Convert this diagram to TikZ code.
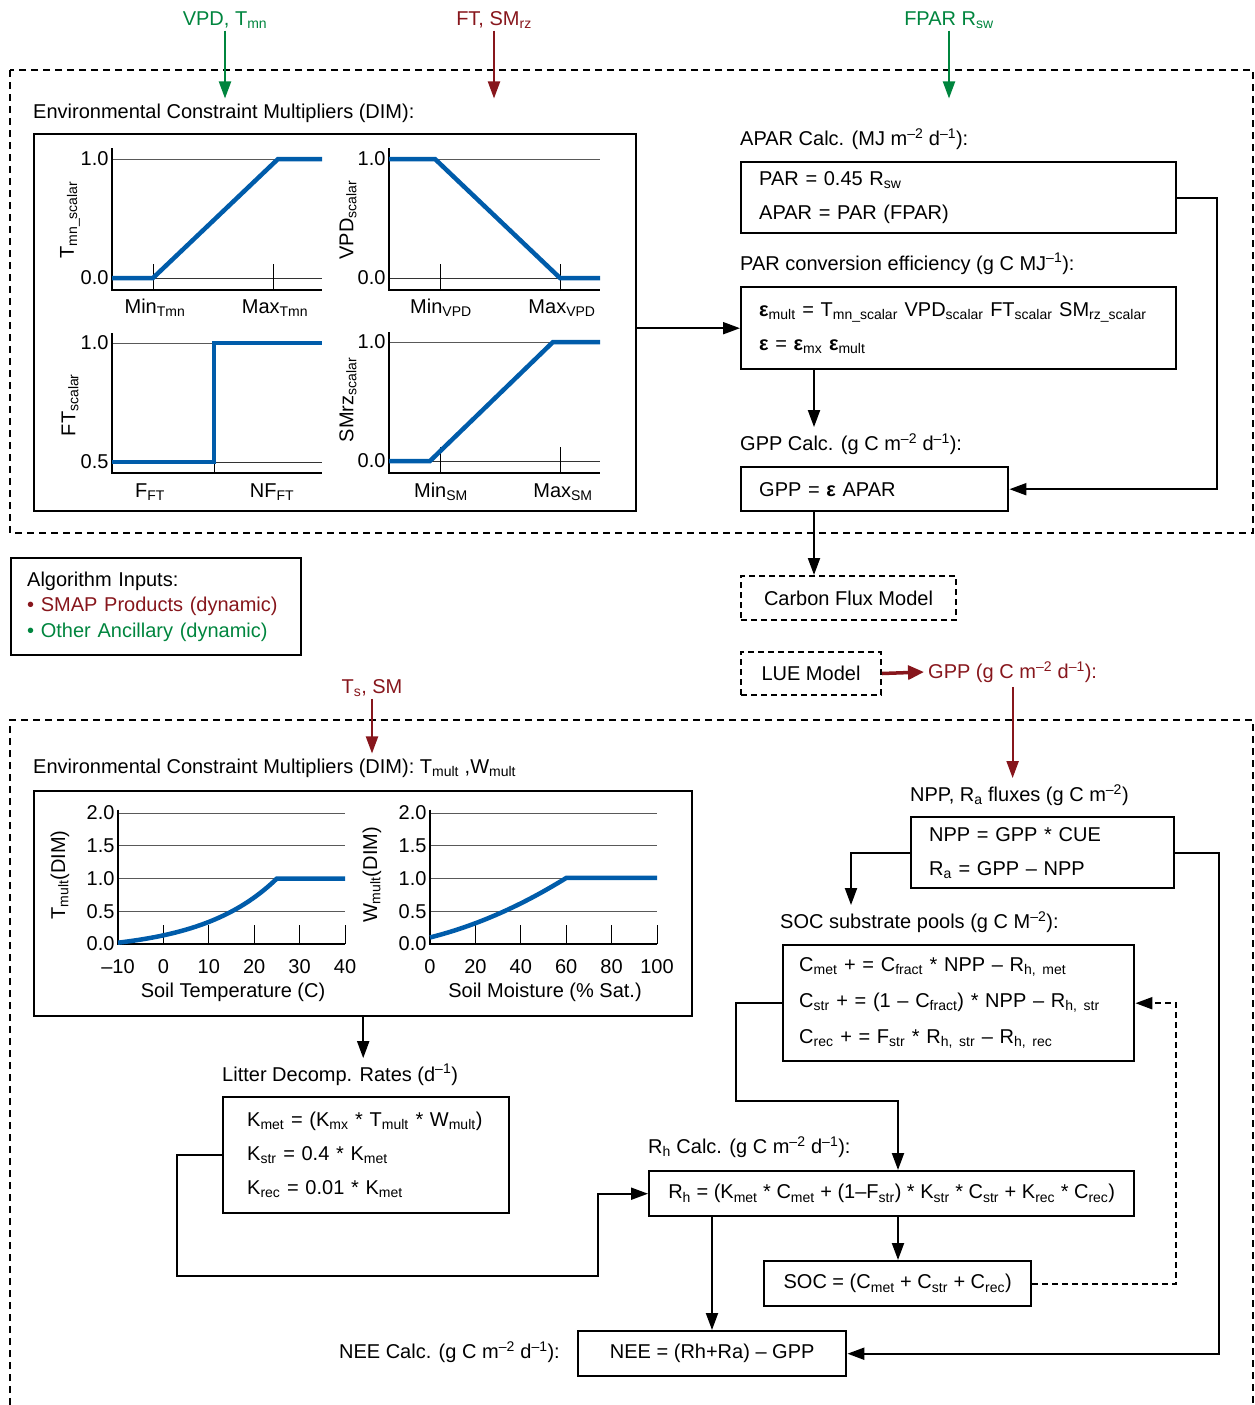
\documentclass[tikz,border=0pt]{standalone}
\usepackage{fontspec}
\setmainfont{Liberation Sans}
\usetikzlibrary{arrows.meta}

\definecolor{ingreen}{RGB}{0,133,62}
\definecolor{inred}{RGB}{135,22,28}
\definecolor{curveblue}{RGB}{0,92,170}

\newcommand{\lsub}[1]{\textsubscript{#1}}
\newcommand{\lsup}[1]{\textsuperscript{#1}}
\newcommand{\epsb}{{\bfseries ε}}

\begin{document}
\begin{tikzpicture}[
    x=1pt, y=-1pt,
    font=\fontsize{20}{24}\selectfont,
    box/.style = {
        draw, line width=2.4pt, anchor=north west, inner xsep=18pt, inner ysep=0pt,
        align=left, font=\fontsize{20}{34}\selectfont
    },
    cbox/.style = {box, align=center},
    dbox/.style = {
        draw, line width=2pt, dash pattern=on 6pt off 4pt, anchor=north west,
        inner sep=0pt, align=center
    },
    chartbox/.style = {draw, line width=2.4pt, anchor=north west, inner sep=0pt},
    lbl/.style = {anchor=west, inner sep=0pt},
    intxt/.style = {inner sep=2pt},
    frame/.style = {line width=2pt, dash pattern=on 7pt off 5pt},
    arrow/.style = {-{Triangle[length=17pt, width=12pt]}, line width=2pt},
    gridln/.style = {gray!70!black, line width=1pt},
    zeroln/.style = {black!80, line width=1pt},
    axisln/.style = {line width=2.6pt},
    tickln/.style = {line width=1pt},
    curve/.style = {curveblue, line width=4.5pt}
]

\useasboundingbox (0,0) rectangle (1255,1405);

% Frames
\draw[frame] (10,70) rectangle (1253,533);
\draw[frame] (10,1405) -- (10,720) -- (1253,720) -- (1253,1405);

% Top frame ── inputs
\node[intxt, text=ingreen] (vpd)  at (225,20) {VPD, T\lsub{mn}};
\node[intxt, text=inred]   (ftsm) at (494,20) {FT, SM\lsub{rz}};
\node[intxt, text=ingreen] (fpar) at (949,20) {FPAR R\lsub{sw}};

% Top frame ── constraint multipliers
\node[lbl] (dimlbl) at (33,113) {Environmental Constraint Multipliers (DIM):};
\node[chartbox, minimum width=602pt, minimum height=377pt] (dimbox) at (33,133) {};

\begin{scope}[shift={(112,159)}]
  \draw[gridln] (0,0) -- (210,0);
  \draw[zeroln] (0,119) -- (210,119);
  \draw[tickln] (41,105) -- (41,131) (161,105) -- (161,131);
  \draw[axisln] (0,-11) -- (0,131) -- (210,131);
  \draw[curve] (0,119) -- (41,119) -- (166,0) -- (210,0);
  \node[anchor=east] (tmn1) at (0,0) {1.0};
  \node[anchor=east] (tmn0) at (0,119) {0.0};
  \node (tmnmin) at (43,149) {Min\lsub{Tmn}};
  \node (tmnmax) at (163,149) {Max\lsub{Tmn}};
  \node[rotate=90] (tmnlab) at (-42,61) {T\lsub{mn\_scalar}};
\end{scope}

\begin{scope}[shift={(389,159)}]
  \draw[gridln] (0,0) -- (211,0);
  \draw[zeroln] (0,119) -- (211,119);
  \draw[tickln] (51,105) -- (51,131) (171,105) -- (171,131);
  \draw[axisln] (0,-11) -- (0,131) -- (211,131);
  \draw[curve] (0,0) -- (46,0) -- (171,119) -- (211,119);
  \node[anchor=east] (vpd1) at (0,0) {1.0};
  \node[anchor=east] (vpd0) at (0,119) {0.0};
  \node (vpdmin) at (52,149) {Min\lsub{VPD}};
  \node (vpdmax) at (173,149) {Max\lsub{VPD}};
  \node[rotate=90] (vpdlab) at (-41,61) {VPD\lsub{scalar}};
\end{scope}

\begin{scope}[shift={(112,343)}]
  \draw[gridln] (0,0) -- (210,0);
  \draw[zeroln] (0,119) -- (210,119);
  \draw[tickln] (102,108) -- (102,130);
  \draw[axisln] (0,-10) -- (0,130) -- (210,130);
  \draw[curve] (0,119) -- (102,119) -- (102,0) -- (210,0);
  \node[anchor=east] (ft1) at (0,0) {1.0};
  \node[anchor=east] (ft0) at (0,119) {0.5};
  \node (ftf)  at (38,149) {F\lsub{FT}};
  \node (ftnf) at (160,149) {NF\lsub{FT}};
  \node[rotate=90] (ftlab) at (-42,62) {FT\lsub{scalar}};
\end{scope}

\begin{scope}[shift={(389,342)}]
  \draw[gridln] (0,0) -- (211,0);
  \draw[zeroln] (0,119) -- (211,119);
  \draw[tickln] (51,105) -- (51,131) (171,105) -- (171,131);
  \draw[axisln] (0,-10) -- (0,131) -- (211,131);
  \draw[curve] (0,119) -- (41,119) -- (164,0) -- (211,0);
  \node[anchor=east] (sm1) at (0,0) {1.0};
  \node[anchor=east] (sm0) at (0,119) {0.0};
  \node (smmin) at (52,150) {Min\lsub{SM}};
  \node (smmax) at (174,150) {Max\lsub{SM}};
  \node[rotate=90] (smlab) at (-41,58) {SMrz\lsub{scalar}};
\end{scope}

% Top frame ── LUE calculations
\node[lbl] (aparlbl) at (740,139) {APAR Calc. (MJ m\lsup{–2} d\lsup{–1}):};
\node[box, text width=399pt, minimum height=71pt] (aparbox) at (740,161)
    {PAR = 0.45 R\lsub{sw}\\APAR = PAR (FPAR)};
\node[lbl] (efflbl) at (740,264) {PAR conversion efficiency (g C MJ\lsup{–1}):};
\node[box, text width=399pt, minimum height=82pt] (effbox) at (740,286)
    {\epsb\lsub{mult} = T\lsub{mn\_scalar} VPD\lsub{scalar} FT\lsub{scalar} SM\lsub{rz\_scalar}\\
     \epsb{} = \epsb\lsub{mx} \epsb\lsub{mult}};
\node[lbl] (gpplbl) at (740,444) {GPP Calc. (g C m\lsup{–2} d\lsup{–1}):};
\node[box, text width=231pt, minimum height=44pt] (gppbox) at (740,466) {GPP = \epsb{} APAR};

% Middle ── models and legend
\node[dbox, minimum width=215pt, minimum height=44pt] (cfm) at (740,575) {Carbon Flux Model};
\node[dbox, minimum width=140pt, minimum height=43pt] (lue) at (740,651) {LUE Model};
\node[lbl, inner sep=4pt, text=inred] (gppout) at (924,672) {GPP (g C m\lsup{–2} d\lsup{–1}):};
\node[box, inner xsep=16pt, text width=258pt, minimum height=97pt,
      font=\fontsize{20}{25.5}\selectfont] (inputs) at (10,557)
    {Algorithm Inputs:\\\textcolor{inred}{• SMAP Products (dynamic)}\\\textcolor{ingreen}{• Other Ancillary (dynamic)}};

% Bottom frame ── constraint multipliers
\node[intxt, text=inred] (tssm) at (372,688) {T\lsub{s}, SM};
\node[lbl] (dim2lbl) at (33,768) {Environmental Constraint Multipliers (DIM): T\lsub{mult} ,W\lsub{mult}};
\node[chartbox, minimum width=658pt, minimum height=225pt] (dimbox2) at (33,790) {};

\begin{scope}[shift={(118,944)}, x=4.54pt, y=65.5pt]
  \foreach \v in {0.5,1,1.5,2} \draw[gridln] (0,\v) -- (50,\v);
  \foreach \t in {10,20,...,50} \draw[tickln] (\t,0) -- (\t,0.29);
  \draw[axisln] (0,2.05) -- (0,0) -- (50,0);
  \draw[curve] plot[domain=0:35, samples=40] (\x, {0.02+0.98*(exp(0.06*\x)-1)/7.166}) -- (50,1);
  \foreach \v/\s [count=\i] in {0/0.0, 0.5/0.5, 1/1.0, 1.5/1.5, 2/2.0}
    \node[anchor=east] (ta\i) at (0,\v) {\s};
  \foreach \t/\s [count=\i] in {0/–10, 10/0, 20/10, 30/20, 40/30, 50/40}
    \node (tx\i) at (\t,-0.34) {\s};
\end{scope}

\begin{scope}[shift={(430,944)}, x=2.27pt, y=65.5pt]
  \foreach \v in {0.5,1,1.5,2} \draw[gridln] (0,\v) -- (100,\v);
  \foreach \t in {20,40,...,100} \draw[tickln] (\t,0) -- (\t,0.29);
  \draw[axisln] (0,2.05) -- (0,0) -- (100,0);
  \draw[curve] plot[domain=0:60, samples=30] (\x, {0.1+0.00875*\x+0.0001125*\x*\x}) -- (100,1.01);
  \foreach \v/\s [count=\i] in {0/0.0, 0.5/0.5, 1/1.0, 1.5/1.5, 2/2.0}
    \node[anchor=east] (wa\i) at (0,\v) {\s};
  \foreach \t [count=\i] in {0,20,...,100}
    \node (wx\i) at (\t,-0.34) {\t};
\end{scope}

\node[rotate=90] (tmultlab) at (60,875) {T\lsub{mult}(DIM)};
\node[rotate=90] (wmultlab) at (372,875) {W\lsub{mult}(DIM)};
\node (soiltlab) at (233,992) {Soil Temperature (C)};
\node (soilmlab) at (545,992) {Soil Moisture (\% Sat.)};

% Bottom frame ── decomposition and fluxes
\node[lbl] (litlbl) at (222,1075) {Litter Decomp. Rates (d\lsup{–1})};
\node[box, inner xsep=24pt, text width=238pt, minimum height=116pt] (litbox) at (222,1096)
    {K\lsub{met} = (K\lsub{mx} * T\lsub{mult} * W\lsub{mult})\\
     K\lsub{str} = 0.4 * K\lsub{met}\\
     K\lsub{rec} = 0.01 * K\lsub{met}};
\node[lbl] (npplbl) at (910,795) {NPP, R\lsub{a} fluxes (g C m\lsup{–2})};
\node[box, text width=227pt, minimum height=71pt] (nppbox) at (910,816)
    {NPP = GPP * CUE\\R\lsub{a} = GPP – NPP};
\node[lbl] (soclbl) at (780,922) {SOC substrate pools (g C M\lsup{–2}):};
\node[box, inner xsep=16pt, text width=319pt, minimum height=116pt,
      font=\fontsize{20}{36}\selectfont] (socpool) at (782,944)
    {C\lsub{met} + = C\lsub{fract} * NPP – R\lsub{h, met}\\
     C\lsub{str} + = (1 – C\lsub{fract}) * NPP – R\lsub{h, str}\\
     C\lsub{rec} + = F\lsub{str} * R\lsub{h, str} – R\lsub{h, rec}};
\node[lbl] (rhlbl) at (648,1147) {R\lsub{h} Calc. (g C m\lsup{–2} d\lsup{–1}):};
\node[cbox, minimum width=485pt, minimum height=45pt] (rhbox) at (648,1170)
    {R\lsub{h} = (K\lsub{met} * C\lsub{met} + (1–F\lsub{str}) * K\lsub{str} * C\lsub{str} + K\lsub{rec} * C\lsub{rec})};
\node[cbox, minimum width=267pt, minimum height=45pt] (socbox) at (763,1260)
    {SOC = (C\lsub{met} + C\lsub{str} + C\lsub{rec})};
\node[cbox, minimum width=268pt, minimum height=45pt] (neebox) at (577,1330) {NEE = (Rh+Ra) – GPP};
\node[lbl, anchor=east] (neelbl) at (560,1352) {NEE Calc. (g C m\lsup{–2} d\lsup{–1}):};

% Input arrows
\draw[arrow, ingreen, shorten >=5pt] (vpd.south)  -- (vpd.south |- dimlbl.north);
\draw[arrow, inred, shorten >=5pt]   (ftsm.south) -- (ftsm.south |- dimlbl.north);
\draw[arrow, ingreen, shorten >=5pt] (fpar.south) -- (fpar.south |- dimlbl.north);
\draw[arrow, inred, shorten >=5pt]   (tssm.south) -- (tssm.south |- dim2lbl.north);

% Top frame connectors
\draw[arrow] (dimbox.east |- effbox.west) -- (effbox.west);
\draw[arrow] (aparbox.east) -- ++(40,0) |- (gppbox.east);
\draw[arrow, shorten >=6pt] ([xshift=74pt]effbox.south west) -- ([xshift=74pt]effbox.south west |- gpplbl.north);
\draw[arrow] ([xshift=74pt]gppbox.south west) -- ([xshift=74pt]cfm.north west);

% LUE output
\draw[-{Triangle[length=16pt, width=14pt]}, inred, line width=3.5pt] (lue.east) -- (gppout.west);
\draw[arrow, inred, shorten >=6pt] (gppout.south) -- (gppout.south |- npplbl.north);

% Bottom frame connectors
\draw[arrow, shorten >=6pt] (dimbox2.south) -- (dimbox2.south |- litlbl.north);
\draw[arrow] (litbox.west) -- ++(-45,0) -- ++(0,121) -| ([xshift=-50pt]rhbox.west) -- (rhbox.west);
\draw[arrow, shorten >=6pt] (nppbox.west) -| ([xshift=71pt]soclbl.north west);
\draw[arrow] (nppbox.east) -- ++(44,0) |- (neebox.east);
\draw[arrow] (socpool.west) -- ++(-46,0) -- ++(0,98) -| ([xshift=250pt]rhbox.north west);
\draw[arrow] ([xshift=250pt]rhbox.south west) -- ([xshift=250pt]rhbox.south west |- socbox.north);
\draw[arrow] ([xshift=64pt]rhbox.south west) -- ([xshift=64pt]rhbox.south west |- neebox.north);
\draw[arrow, dash pattern=on 6pt off 4pt] (socbox.east) -- ++(144,0) |- (socpool.east);

\end{tikzpicture}
\end{document}
